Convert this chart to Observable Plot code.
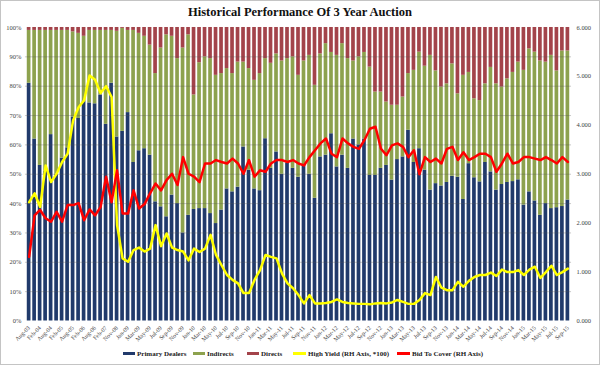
<!DOCTYPE html>
<html><head><meta charset="utf-8">
<script src="https://cdn.jsdelivr.net/npm/d3@7"></script>
<script src="https://cdn.jsdelivr.net/npm/@observablehq/plot@0.6"></script>
<style>
body{margin:0;background:#fff;}
#wrap{position:relative;width:598px;height:363px;border:1px solid #c4c4c4;background:#fff;overflow:hidden;font-family:"Liberation Serif","Times New Roman",serif;}
#title{position:absolute;left:0;top:3px;width:598px;text-align:center;font-weight:bold;font-size:12.5px;color:#111;line-height:16px;}
#chart{position:absolute;left:-1px;top:21px;}
#legend{position:absolute;left:-1px;top:346px;width:600px;height:16px;font-weight:bold;font-size:7px;color:#222;}
.it{position:absolute;top:3px;white-space:nowrap;line-height:9px;}
.sw{display:inline-block;width:12px;height:3px;vertical-align:middle;margin-right:2px;position:relative;top:-1px;}
</style>
</head><body>
<div id="wrap">
  <div id="title">Historical Performance Of 3 Year Auction</div>
  <div id="chart"></div>
  <div id="legend"></div>
</div>
<script>
const dates = ["Aug-03","Nov-03","Feb-04","May-04","Aug-04","Nov-04","Feb-05","May-05","Aug-05","Nov-05","Feb-06","May-06","Aug-06","Nov-06","Feb-07","May-07",
"Nov-08","Dec-08",
"Jan-09","Feb-09","Mar-09","Apr-09","May-09","Jun-09","Jul-09","Aug-09","Sep-09","Oct-09","Nov-09","Dec-09",
"Jan-10","Feb-10","Mar-10","Apr-10","May-10","Jun-10","Jul-10","Aug-10","Sep-10","Oct-10","Nov-10","Dec-10",
"Jan-11","Feb-11","Mar-11","Apr-11","May-11","Jun-11","Jul-11","Aug-11","Sep-11","Oct-11","Nov-11","Dec-11",
"Jan-12","Feb-12","Mar-12","Apr-12","May-12","Jun-12","Jul-12","Aug-12","Sep-12","Oct-12","Nov-12","Dec-12",
"Jan-13","Feb-13","Mar-13","Apr-13","May-13","Jun-13","Jul-13","Aug-13","Sep-13","Oct-13","Nov-13","Dec-13",
"Jan-14","Feb-14","Mar-14","Apr-14","May-14","Jun-14","Jul-14","Aug-14","Sep-14","Oct-14","Nov-14","Dec-14",
"Jan-15","Feb-15","Mar-15","Apr-15","May-15","Jun-15","Jul-15","Aug-15","Sep-15"];

// % of auction taken by primary dealers
const primaryDealers = [81,62,53,51,63.5,50,55.5,59,69.5,69,75,74.3,74,77,67,81,
62.7,64.6,71,54,58,58.7,56.5,40.6,38.9,35.5,42.9,40,30,36,
38,38.3,38.3,36.6,33.2,37.8,45,44,45.6,59.3,51.4,45,
44.4,62.1,52,57.6,50,53.7,52,49,53,50,41.8,55.9,
56.5,63.8,52.5,56.5,52,62,60,62,49.6,49.6,52,53,
48,55,55.9,65,54,58.7,51.4,44.6,46.8,46,47.2,49.3,
49,41.4,53.6,48.8,47.4,54,50.8,44.6,46.5,47.2,47.5,48.1,
39.5,44,40.9,36,40,38.3,38.6,39,41.2];

// % taken by direct bidders
const directs = [1,1,1,1,1,1,1,1,1.5,2,3,1,1,1,1,1,
1.3,0.3,1,1,2,3,6,15.7,7,2.5,3,10.6,7,2.5,
23,12,10,10.6,16.3,15.7,14,15.7,11.8,11.8,14,18,
15.7,10.6,12.2,9,11.4,10.6,10,16.3,11.4,9.5,19.7,9,
5.5,8.5,9.5,5.5,10.6,11.4,10,8.5,13.5,22,22,25.4,
26.5,26.5,23.7,15.7,14.6,8.4,13.2,9.5,14.8,20.3,19.2,12.4,
22.6,16.3,15.3,24.3,24.9,19.2,13.6,19.2,20.3,17.5,15.3,11.8,
14.6,7.3,8.4,11.4,11.8,9.5,14.8,8,8];

// High yield (x100), RH axis
const highYield = [2.43,2.61,2.33,3.18,2.84,3.01,3.25,3.42,4.1,4.37,4.51,5.02,4.93,4.66,4.8,4.58,
1.96,1.28,1.21,1.45,1.5,1.42,1.48,1.96,1.53,1.79,1.5,1.45,1.42,1.24,
1.48,1.41,1.48,1.76,1.35,1.14,0.94,0.84,0.77,0.57,0.57,0.84,
1.04,1.35,1.31,1.28,0.97,0.77,0.67,0.53,0.36,0.53,0.36,0.36,
0.37,0.39,0.44,0.39,0.37,0.36,0.35,0.35,0.34,0.36,0.37,0.36,
0.38,0.43,0.39,0.35,0.35,0.43,0.57,0.53,0.9,0.68,0.63,0.63,
0.8,0.7,0.82,0.9,0.94,0.94,0.99,0.92,1.05,1.0,1.0,1.04,
0.94,1.05,1.11,0.88,1.0,1.13,0.94,1.0,1.07];

// Bid to cover, RH axis
const bidToCover = [1.31,2.16,2.27,2.1,2.03,2.23,2.03,2.37,2.37,2.41,2.06,2.28,2.16,2.33,2.95,2.43,
3.08,2.2,2.2,2.67,2.3,2.39,2.61,2.81,2.67,2.88,3.01,2.78,3.35,3.01,
2.95,2.84,3.22,3.22,3.29,3.25,3.22,3.32,3.22,3.01,3.29,2.95,
3.08,3.05,3.22,3.29,3.29,3.25,3.29,3.22,3.18,3.35,3.49,3.63,
3.73,3.42,3.35,3.73,3.63,3.56,3.52,3.7,3.93,3.97,3.52,3.39,
3.59,3.63,3.56,3.35,3.49,3.0,3.35,3.25,3.32,3.22,3.52,3.56,
3.29,3.45,3.29,3.35,3.42,3.42,3.35,3.05,3.22,3.42,3.22,3.25,
3.35,3.35,3.32,3.29,3.35,3.29,3.22,3.35,3.25];

const seriesNames = ["Primary Dealers","Indirects","Directs"];
const seriesColors = ["#213A6B","#8DA24E","#A3434A"];
const pctTicks = [0,10,20,30,40,50,60,70,80,90,100];
const rhTicks = [0,1,2,3,4,5,6];
const rhMax = 6;

const R = 100 / rhMax;
const barRows = [];
dates.forEach((d, i) => {
  barRows.push({date: d, s: "Primary Dealers", v: primaryDealers[i]});
  barRows.push({date: d, s: "Indirects", v: 100 - primaryDealers[i] - directs[i]});
  barRows.push({date: d, s: "Directs", v: directs[i]});
});
const lineRows = dates.map((d, i) => ({date: d, hy: highYield[i], btc: bidToCover[i]}));

const chart = Plot.plot({
  width: 600, height: 325,
  marginTop: 5, marginBottom: 26, marginLeft: 25, marginRight: 28,
  style: {fontFamily: "'Liberation Serif','Times New Roman',serif", fontSize: "6.5px", color: "#444", background: "transparent"},
  x: {type: "band", domain: dates, padding: 0.33},
  y: {domain: [0, 100]},
  color: {domain: seriesNames, range: seriesColors},
  marks: [
    Plot.barY(barRows, {x: "date", y: "v", fill: "s"}),
    Plot.ruleY(pctTicks.slice(1, -1), {stroke: "#555", strokeOpacity: 0.45, strokeWidth: 0.7}),
    Plot.line(lineRows, {x: "date", y: d => d.hy * R, stroke: "#FFFF00", strokeWidth: 2.5, strokeLinejoin: "round"}),
    Plot.line(lineRows, {x: "date", y: d => d.btc * R, stroke: "#FF0000", strokeWidth: 2.5, strokeLinejoin: "round"}),
    Plot.axisY({anchor: "left", ticks: pctTicks, tickFormat: d => d + "%", tickSize: 0, tickPadding: 4, label: null}),
    Plot.axisY({anchor: "right", ticks: rhTicks.map(v => v * R), tickFormat: d => (d / R).toFixed(3), tickSize: 0, tickPadding: 5, label: null}),
    Plot.axisX({ticks: dates.filter((d, i) => i % 2 === 0), tickRotate: -45, tickSize: 0, tickPadding: 6, fontSize: 6, label: null})
  ]
});
document.getElementById("chart").appendChild(chart);

const legendItems = [
  {name: "Primary Dealers", color: "#213A6B", left: 123, w: 12},
  {name: "Indirects", color: "#8DA24E", left: 193, w: 12},
  {name: "Directs", color: "#A3434A", left: 247, w: 12},
  {name: "High Yield (RH Axis, *100)", color: "#FFFF00", left: 293, w: 13},
  {name: "Bid To Cover (RH Axis)", color: "#FF0000", left: 397, w: 13}
];
const lg = document.getElementById("legend");
legendItems.forEach(it => {
  const s = document.createElement("span");
  s.className = "it";
  s.style.left = it.left + "px";
  const sw = document.createElement("span");
  sw.className = "sw";
  sw.style.background = it.color;
  sw.style.width = it.w + "px";
  s.appendChild(sw);
  s.appendChild(document.createTextNode(it.name));
  lg.appendChild(s);
});
</script>
</body></html>
